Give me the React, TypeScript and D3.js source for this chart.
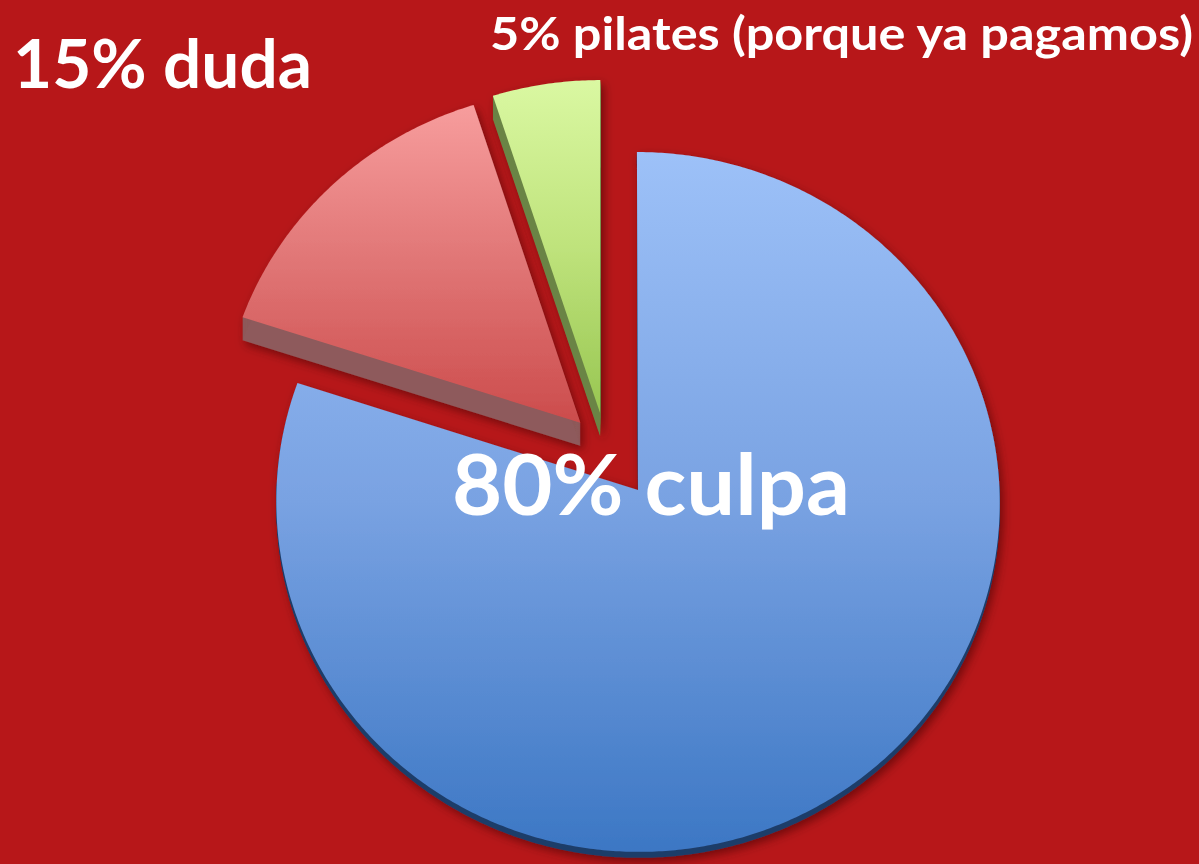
import React from "react";
import * as d3 from "d3";

const W = 1199;
const H = 864;

// data
const categories = ["culpa", "duda", "pilates (porque ya pagamos)"];
const values = [80, 15, 5];
const labelTexts = ["80% culpa", "15% duda", "5% pilates (porque ya pagamos)"];

// styling per slice
const explode = [0.152, 0.1, 0.1];
const depths = [6, 23, 23];
const topStops = [
  ["#9DC1F8", "#79A2E2", "#3C77C4"],
  ["#F79D9D", "#E07575", "#CC4C4C"],
  ["#DAF8A2", "#BFE37C", "#98C652"],
];
const sideColors = ["#1F3D69", "#8E5A5B", "#6A8445"];

// projection of the tilted pie plane
const cx = 605.7;
const cy = 447.2;
const Rx = 360;
const Ry = 346.6;
const persp = 0.034;

function project(u: number, v: number): [number, number] {
  const k = 1 / (1 + persp * v);
  return [cx + Rx * u * k, cy - Ry * v * k];
}

const pie = d3
  .pie<number>()
  .sort(null)
  .value((d) => d)
  .startAngle(0)
  .endAngle(Math.PI * 2);

const line = d3.line<[number, number]>();

function slicePath(a0: number, a1: number, e: number): string {
  const m = (a0 + a1) / 2;
  const ou = e * Math.sin(m);
  const ov = e * Math.cos(m);
  const pts: [number, number][] = [project(ou, ov)];
  const steps = Math.max(8, Math.ceil(((a1 - a0) * 180) / Math.PI / 0.5));
  for (let i = 0; i <= steps; i++) {
    const t = a0 + ((a1 - a0) * i) / steps;
    pts.push(project(ou + Math.sin(t), ov + Math.cos(t)));
  }
  return (line(pts) || "") + "Z";
}

export default function App() {
  const arcs = pie(values);
  return (
    <svg
      width={W}
      height={H}
      viewBox={`0 0 ${W} ${H}`}
      style={{ position: "absolute", left: 0, top: 0, display: "block" }}
    >
      <defs>
        {topStops.map((s, i) => (
          <linearGradient key={i} id={`g${i}`} x1="0" y1="0" x2="0" y2="1">
            <stop offset="0" stopColor={s[0]} />
            <stop offset="0.5" stopColor={s[1]} />
            <stop offset="1" stopColor={s[2]} />
          </linearGradient>
        ))}
        <filter id="shadow" x="-20%" y="-20%" width="140%" height="140%">
          <feDropShadow dx="3" dy="4" stdDeviation="5" floodColor="#3a0000" floodOpacity="0.55" />
        </filter>
      </defs>
      <rect x={0} y={0} width={W} height={H} fill="#B71719" />
      {arcs.map((a, i) => {
        const d = slicePath(a.startAngle, a.endAngle, explode[i]);
        const copies = d3.range(1, depths[i] + 1);
        return (
          <g key={categories[i]} filter="url(#shadow)">
            {copies.map((dy) => (
              <path key={dy} d={d} transform={`translate(0,${dy})`} fill={sideColors[i]} />
            ))}
            <path d={d} fill={`url(#g${i})`} />
          </g>
        );
      })}
      <g fill="#ffffff" fontFamily="Lato, 'Open Sans', sans-serif" fontWeight={700}>
        <text x={452} y={515} fontSize={85} textLength={398} lengthAdjust="spacingAndGlyphs">
          {labelTexts[0]}
        </text>
        <text x={13} y={88} fontSize={67} textLength={299} lengthAdjust="spacingAndGlyphs">
          {labelTexts[1]}
        </text>
        <text x={490} y={50} fontSize={46} textLength={703} lengthAdjust="spacingAndGlyphs">
          {labelTexts[2]}
        </text>
      </g>
    </svg>
  );
}
